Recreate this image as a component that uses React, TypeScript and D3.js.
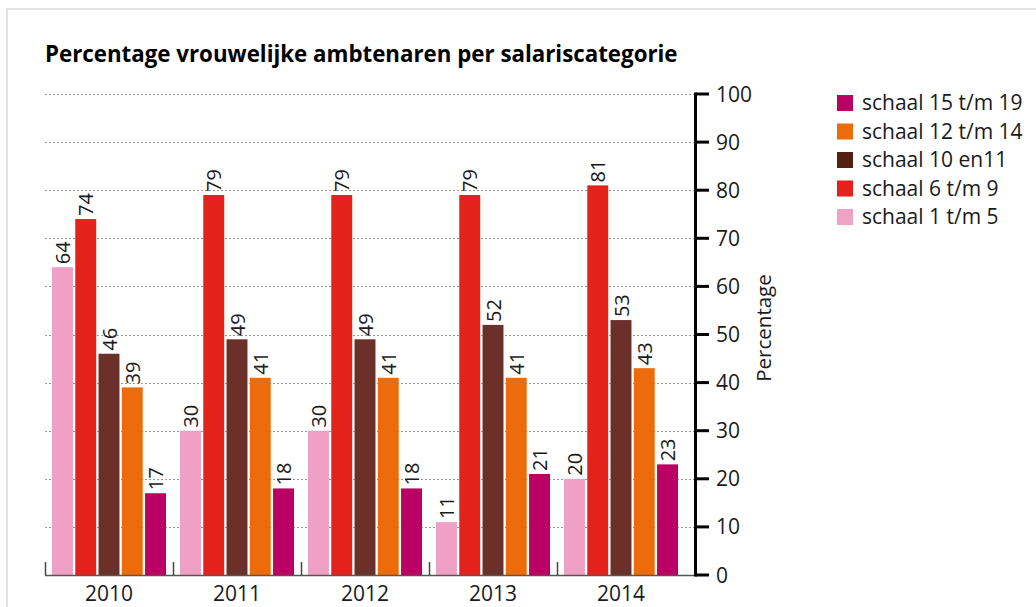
import React from "react";
import * as d3 from "d3";

const years = ["2010", "2011", "2012", "2013", "2014"];
const seriesNames = ["schaal 1 t/m 5", "schaal 6 t/m 9", "schaal 10 en11", "schaal 12 t/m 14", "schaal 15 t/m 19"];
const barColors = ["#F0A0C4", "#E32219", "#6B302A", "#EC6B0A", "#BA0062"];
const legendColors = ["#F1A1C6", "#E32219", "#54200F", "#EC6B0A", "#BA0062"];
const schaal1 = [64, 30, 30, 11, 20];
const schaal6 = [74, 79, 79, 79, 81];
const schaal10 = [46, 49, 49, 52, 53];
const schaal12 = [39, 41, 41, 41, 43];
const schaal15 = [17, 18, 18, 21, 23];
const yTicks = [0, 10, 20, 30, 40, 50, 60, 70, 80, 90, 100];

const seriesValues = [schaal1, schaal6, schaal10, schaal12, schaal15];

const FONT = "'Open Sans', 'Noto Sans', sans-serif";

export default function App() {
  const W = 1036, H = 607;
  const x0 = d3.scaleBand<string>().domain(years).range([45, 685]).paddingInner(0).paddingOuter(0);
  const x1 = d3.scaleBand<number>().domain(d3.range(5)).range([7, 121]).paddingInner(0.1);
  const y = d3.scaleLinear().domain([0, 100]).range([575, 94]);
  const axisX = 695.5;

  const legendOrder = [4, 3, 2, 1, 0];

  return (
    <svg width={W} height={H} style={{ position: "absolute", left: 0, top: 0, background: "#fff" }} fontFamily={FONT}>
      <rect x={7} y={9} width={1040} height={620} fill="none" stroke="#e2e2e2" strokeWidth={2} />
      <text x={45} y={62} fontSize={22.3} fontWeight={700} fill="#000">Percentage vrouwelijke ambtenaren per salariscategorie</text>

      {yTicks.filter(t => t > 0).map(t => (
        <line key={"g" + t} x1={45} x2={axisX} y1={Math.round(y(t)) + 0.5} y2={Math.round(y(t)) + 0.5} stroke="#999" strokeWidth={1} strokeDasharray="2,2" />
      ))}

      {years.map((yr, gi) => (
        <g key={yr} transform={`translate(${x0(yr)},0)`}>
          {seriesValues.map((vals, si) => {
            const v = vals[gi];
            const bx = x1(si)!;
            const bw = x1.bandwidth();
            return (
              <g key={si}>
                <rect x={bx} y={y(v)} width={bw} height={y(0) - y(v)} fill={barColors[si]} />
                <text transform={`translate(${bx + bw / 2 + 7.5},${y(v) - 3}) rotate(-90)`} fontSize={20} fill="#1a1a1a">{v}</text>
              </g>
            );
          })}
          <line x1={0.5} x2={0.5} y1={562} y2={575} stroke="#444" strokeWidth={1.5} />
          <text x={x0.bandwidth() / 2} y={601} textAnchor="middle" fontSize={21} fill="#1a1a1a">{yr}</text>
        </g>
      ))}

      <line x1={45} x2={axisX} y1={575.5} y2={575.5} stroke="#555" strokeWidth={1.5} />

      <line x1={axisX} x2={axisX} y1={y(100) - 1.5} y2={y(0) + 1.5} stroke="#000" strokeWidth={3} />
      {yTicks.map(t => (
        <g key={"t" + t}>
          <line x1={axisX} x2={709} y1={y(t)} y2={y(t)} stroke="#000" strokeWidth={3} />
          <text x={716} y={y(t) + 7.5} fontSize={21} fill="#1a1a1a">{t}</text>
        </g>
      ))}
      <text transform={`translate(771,328) rotate(-90)`} textAnchor="middle" fontSize={20.5} fill="#1a1a1a">Percentage</text>

      {legendOrder.map((si, i) => (
        <g key={"l" + si} transform={`translate(837,${95 + i * 28.5})`}>
          <rect x={0} y={0} width={16} height={16} fill={legendColors[si]} />
          <text x={25} y={15} fontSize={21} fill="#1a1a1a">{seriesNames[si]}</text>
        </g>
      ))}
    </svg>
  );
}
